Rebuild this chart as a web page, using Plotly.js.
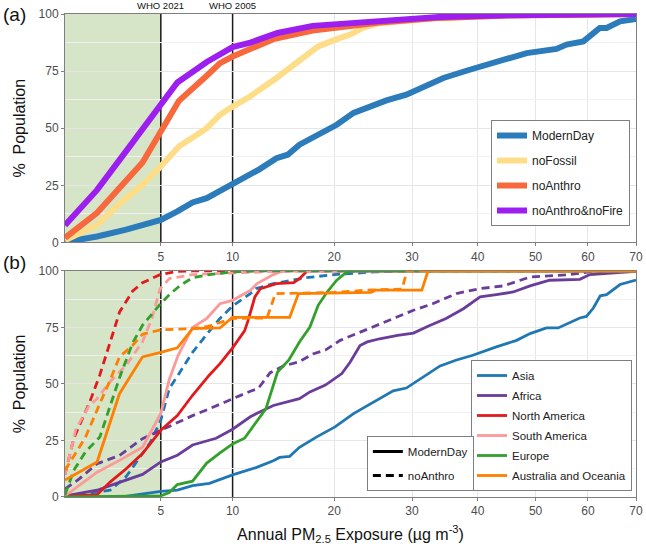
<!DOCTYPE html>
<html>
<head>
<meta charset="utf-8">
<script src="https://cdn.plot.ly/plotly-3.0.1.min.js"></script>
<style>
  body { margin: 0; background: #fff; }
  #chart { width: 646px; height: 552px; }
</style>
</head>
<body>
<div id="chart"></div>
<script>
// x = annual PM2.5 exposure (ug m-3), y = cumulative % of population

// ---- panel (a): global scenarios ----
const modernDay_x = [1, 2, 3.2, 5, 6, 7, 8, 10, 11.5, 12.3, 13.9, 15, 16.2, 18.4, 20.3, 22.3, 24.3, 26.5, 29.2, 31.6, 34.6, 38.7, 43.2, 48.4, 53.9, 55.8, 59.1, 60.4, 62.4, 63.8, 66.6, 70];
const modernDay_y = [0.2, 2.6, 5.6, 9.9, 13.6, 17.5, 19.4, 25.3, 29.6, 32, 36.9, 38.4, 42.8, 47.9, 51.5, 56.7, 59.5, 62.2, 64.7, 68, 72, 75.6, 79.2, 82.9, 84.7, 86.6, 88, 90.2, 93.9, 93.9, 96.8, 97.8];

const noFossil_x = [1, 2, 2.9, 4, 5, 6.1, 8, 9, 10, 11.5, 13.9, 15.9, 18.2, 20.3, 21.9, 23.5, 25.6, 34, 45, 70];
const noFossil_y = [1, 7.7, 17, 25.3, 33.3, 42, 50, 55.9, 59.5, 64, 72, 78.5, 85.8, 89, 91, 94, 96, 98.3, 99.3, 100];

const noAnthro_x = [1, 2, 4, 5, 6.1, 8, 9, 10, 11.5, 13.6, 17.6, 21.5, 25.6, 34, 45, 70];
const noAnthro_y = [2, 13, 35, 48, 62, 73, 78.5, 81.4, 85, 89, 92.8, 94.9, 96.3, 98.3, 99.3, 100];

const noFire_x = [1, 2, 3.2, 5, 6, 8, 10, 11.5, 14, 17.6, 21.5, 25.6, 34, 45, 70];
const noFire_y = [7.5, 23, 40, 60, 70, 79, 85.5, 87.5, 91.7, 94.8, 95.8, 97.2, 98.7, 99.5, 100];

// ---- panel (b): regions, ModernDay ----
const asia_x = [1, 3, 5, 6, 7, 8.2, 10, 12, 13.6, 14.2, 15.2, 16.2, 18, 20.1, 22.3, 24.8, 27.4, 29.2, 31.6, 34.1, 36.5, 39.2, 43.1, 46.6, 49, 52, 54.2, 56.5, 58.4, 59.7, 61.1, 62.5, 63.8, 66.6, 70];
const asia_y = [0, 0, 2.5, 3, 5, 6, 9.8, 13, 16, 17.5, 18, 22, 26.5, 31, 36.9, 42, 47, 48.2, 53, 58, 60.5, 62.7, 66.4, 69.3, 72.3, 74.8, 74.8, 77.4, 79.2, 79.9, 83.6, 89, 89.5, 94, 96];

const africa_x = [1, 2, 2.5, 3.2, 4, 5, 6, 7, 8.7, 10, 11.5, 12.1, 13.6, 16.2, 17.3, 19, 20.9, 21.9, 23.1, 24, 25.6, 28, 30.2, 32.3, 35, 37.7, 40.4, 43.1, 46, 49, 52.6, 58.4, 60.4, 70];
const africa_y = [0.5, 3, 5, 7.5, 10, 15.5, 18.5, 23, 26, 30, 35.5, 37, 40.5, 43.5, 46.5, 49.5, 54.6, 59.7, 67, 68.6, 70, 71.5, 72.5, 75.5, 79, 83.3, 88.5, 89.5, 90.7, 93.4, 95.9, 96.3, 98.4, 99.8];

const northAm_x = [1, 2, 2.5, 3.2, 4, 5, 6, 7, 8.2, 9, 10, 11, 11.3, 11.9, 12.4, 13.9, 15.6, 16.2, 17, 70];
const northAm_y = [0.3, 1, 6.6, 12.5, 19.2, 29.5, 36, 45, 54, 59, 66, 73.5, 78, 88.5, 92.2, 94.4, 94.8, 96.6, 100, 100];

const southAm_x = [1, 2, 2.9, 4, 5, 5.5, 6.05, 7, 8, 9, 10, 11.5, 12.1, 13.6, 14.5, 70];
const southAm_y = [0.5, 11, 16.2, 22, 37, 52, 62.7, 75, 79, 85.5, 87, 91.4, 94.4, 98.4, 100, 100];

const europe_x = [1, 5, 5.5, 6, 7, 8, 9, 10, 11, 11.8, 12.9, 14, 15.1, 16.2, 17.3, 18.2, 19.2, 20.3, 21.5, 22.5, 70];
const europe_y = [0, 0.5, 2, 5.5, 7, 15, 19.5, 23.5, 26, 31.7, 39, 55.3, 60.5, 68.6, 75.2, 84.8, 90.7, 95.9, 99.6, 100, 100];

const australia_x = [1, 2, 2.9, 4, 5, 6, 7, 9, 10, 15.2, 16.1, 24.5, 25, 31.4, 32.3, 70];
const australia_y = [7.5, 15.5, 45.7, 62, 64, 66, 74.5, 74.8, 79.5, 79.5, 90, 90.5, 91.5, 91.5, 100, 100];

// ---- panel (b): regions, noAnthro ----
const asiaNoAnthro_x = [1, 2.5, 3.2, 3.7, 4.4, 5, 5.5, 6.05, 7, 8, 9, 10, 11.5, 12, 13.6, 16.9, 20, 25, 30, 70];
const asiaNoAnthro_y = [0, 3, 9, 15.5, 24, 34, 48, 54, 64, 72, 79, 84.5, 90, 92.2, 94.4, 97, 98.4, 99.6, 100, 100];

const africaNoAnthro_x = [1, 1.4, 2, 2.9, 4, 5, 6, 7, 8.5, 10, 11.5, 12.2, 13.3, 14.6, 16.1, 17.7, 19, 20.7, 22.7, 24.8, 27, 30.2, 33, 36.6, 40.4, 44.3, 49, 56.5, 60.4, 70];
const africaNoAnthro_y = [3.5, 8, 14.7, 18.4, 25.8, 29.5, 33.2, 36, 39.8, 43.5, 46.8, 48, 55, 58, 59.7, 63.4, 65, 69.3, 72.3, 75.2, 78.2, 82.6, 85.5, 90, 92.2, 93.4, 97.3, 98.4, 99.6, 100];

const northAmNoAnthro_x = [1, 1.24, 1.74, 2.1, 2.49, 2.91, 3.5, 4, 5, 6, 7, 70];
const northAmNoAnthro_y = [10, 26, 42, 54, 68, 82, 91, 94.8, 98.5, 99.8, 100, 100];

const southAmNoAnthro_x = [1, 1.3, 1.7, 2, 2.5, 3.2, 4, 4.5, 4.95, 5.5, 7, 11.5, 15, 70];
const southAmNoAnthro_y = [10, 30, 40, 43.5, 51, 58.3, 68.6, 79, 92, 96.6, 98.4, 99.3, 100, 100];

const europeNoAnthro_x = [1, 1.24, 1.6, 2.1, 2.49, 2.91, 3.5, 4, 5, 5.5, 6.2, 7, 8.2, 10, 12, 70];
const europeNoAnthro_y = [1, 11.8, 20, 26.5, 39.8, 53, 68, 76, 85.6, 89.5, 93.7, 97, 98.4, 99.6, 100, 100];

const australiaNoAnthro_x = [1, 1.6, 2.1, 2.5, 2.9, 3.5, 4, 5, 7, 8.1, 10, 13, 13.8, 20, 24, 28.6, 29.3, 70];
const australiaNoAnthro_y = [11.8, 26.5, 41.3, 51.6, 62, 67, 72, 74, 74.5, 75.5, 79, 79.2, 90, 90.5, 91.5, 92, 100, 100];

// axis + guideline values
const xTicks = [5, 10, 20, 30, 40, 50, 60, 70];
const xGrid = [20, 30, 40, 50, 60];   // 5 and 10 carry the WHO lines instead
const xMin = 1;
const xMax = 70;
const yTicks = [0, 25, 50, 75, 100];
const yMinorGrid = [12.5, 37.5, 62.5, 87.5];
const whoLimits = [5, 10];
const whoLabels = ["WHO 2021", "WHO 2005"];

// the x axis is on a square-root scale
const sq = arr => arr.map(v => Math.sqrt(v));

const FONT = "Liberation Sans, Arial, sans-serif";

const scenarios = [
    {name: "ModernDay", x: modernDay_x, y: modernDay_y, color: "#2c7bba"},
    {name: "noFossil", x: noFossil_x, y: noFossil_y, color: "#fedd88"},
    {name: "noAnthro", x: noAnthro_x, y: noAnthro_y, color: "#f7693c"},
    {name: "noAnthro&noFire", x: noFire_x, y: noFire_y, color: "#9d1ff0"},
];

const regions = [
    {name: "Asia", color: "#1f78b4", md: [asia_x, asia_y], na: [asiaNoAnthro_x, asiaNoAnthro_y]},
    {name: "Africa", color: "#6a3d9a", md: [africa_x, africa_y], na: [africaNoAnthro_x, africaNoAnthro_y]},
    {name: "North America", color: "#e31a1c", md: [northAm_x, northAm_y], na: [northAmNoAnthro_x, northAmNoAnthro_y]},
    {name: "South America", color: "#fb9a99", md: [southAm_x, southAm_y], na: [southAmNoAnthro_x, southAmNoAnthro_y]},
    {name: "Europe", color: "#33a02c", md: [europe_x, europe_y], na: [europeNoAnthro_x, europeNoAnthro_y]},
    {name: "Australia and Oceania", color: "#ff7f00", md: [australia_x, australia_y], na: [australiaNoAnthro_x, australiaNoAnthro_y]},
];

const data = [];

scenarios.forEach(s => {
    data.push({
        name: s.name,
        x: sq(s.x),
        y: s.y,
        mode: "lines",
        type: "scatter",
        line: {color: s.color, width: 6},
        xaxis: "x",
        yaxis: "y",
        legend: "legend",
        legendgroup: s.name,
    });
});

regions.forEach(r => {
    data.push({
        name: r.name,
        x: sq(r.md[0]),
        y: r.md[1],
        mode: "lines",
        type: "scatter",
        line: {color: r.color, width: 2.8},
        xaxis: "x2",
        yaxis: "y2",
        legend: "legend2",
        legendgroup: r.name,
    });
    data.push({
        name: r.name + " (noAnthro)",
        x: sq(r.na[0]),
        y: r.na[1],
        mode: "lines",
        type: "scatter",
        line: {color: r.color, width: 2.8, dash: "8px,5px"},
        xaxis: "x2",
        yaxis: "y2",
        legend: "legend2",
        legendgroup: r.name,
        showlegend: false,
    });
});

// line-type key
[["ModernDay", "solid"], ["noAnthro", "8px,5px"]].forEach(([name, dash]) => {
    data.push({
        name: name,
        x: [null],
        y: [null],
        mode: "lines",
        type: "scatter",
        line: {color: "#000", width: 3, dash: dash},
        xaxis: "x2",
        yaxis: "y2",
        legend: "legend3",
        legendgroup: "lt_" + name,
    });
});

const xAxisBase = {
    range: [Math.sqrt(xMin), Math.sqrt(xMax)],
    tickvals: sq(xTicks),
    ticktext: xTicks.map(String),
    showgrid: false,
    minor: {tickvals: sq(xGrid), showgrid: true, gridcolor: "#e6e6e6", ticks: ""},
    showline: true,
    linecolor: "#7f7f7f",
    mirror: true,
    ticks: "outside",
    ticklen: 3,
    tickcolor: "#7f7f7f",
    tickfont: {family: FONT, size: 12, color: "#4d4d4d"},
    zeroline: false,
};

const yAxisBase = {
    range: [0, 100],
    tickvals: yTicks,
    showgrid: true,
    gridcolor: "#e6e6e6",
    minor: {tickvals: yMinorGrid, showgrid: true, gridcolor: "#f0f0f0", ticks: ""},
    showline: true,
    linecolor: "#7f7f7f",
    mirror: true,
    ticks: "outside",
    ticklen: 3,
    tickcolor: "#7f7f7f",
    tickfont: {family: FONT, size: 12, color: "#4d4d4d"},
    zeroline: false,
    title: {text: "% \u00a0Population", font: {family: FONT, size: 16, color: "#111"}, standoff: 8},
};

const shapes = [];
[["x", "y"], ["x2", "y2"]].forEach(([xr, yr]) => {
    shapes.push({
        type: "rect", xref: xr, yref: yr + " domain",
        x0: Math.sqrt(xMin), x1: Math.sqrt(whoLimits[0]), y0: 0, y1: 1,
        fillcolor: "#d6e4c7", line: {width: 0}, layer: "below",
    });
});
[["x", "y"], ["x2", "y2"]].forEach(([xr, yr]) => {
    whoLimits.forEach(w => {
        shapes.push({
            type: "line", xref: xr, yref: yr + " domain",
            x0: Math.sqrt(w), x1: Math.sqrt(w), y0: 0, y1: 1,
            line: {color: "#1a1a1a", width: 1.5}, layer: "below",
        });
    });
});

const annotations = [
    {text: "(a)", xref: "paper", yref: "paper", x: -0.112, y: 1.0, xanchor: "left", yanchor: "middle",
     showarrow: false, font: {family: FONT, size: 19, color: "#111"}},
    {text: "(b)", xref: "paper", yref: "paper", x: -0.112, y: 0.4845, xanchor: "left", yanchor: "middle",
     showarrow: false, font: {family: FONT, size: 19, color: "#111"}},
];
whoLimits.forEach((w, i) => {
    annotations.push({
        text: whoLabels[i], xref: "x", yref: "paper", x: Math.sqrt(w), y: 1.017,
        xanchor: "center", yanchor: "middle", showarrow: false,
        font: {family: FONT, size: 9.5, color: "#111"},
    });
});

const legendBase = {
    bgcolor: "#fff",
    bordercolor: "#7f7f7f",
    borderwidth: 1,
    xanchor: "right",
};

const layout = {
    width: 646,
    height: 552,
    margin: {l: 65, r: 10, t: 14, b: 55},
    paper_bgcolor: "#fff",
    plot_bgcolor: "#fff",
    font: {family: FONT},
    xaxis: {...xAxisBase, domain: [0, 1], anchor: "y"},
    xaxis2: {...xAxisBase, domain: [0, 1], anchor: "y2",
        title: {text: "Annual PM<sub>2.5</sub> Exposure (\u00b5g m<sup>-3</sup>)",
                font: {family: FONT, size: 16, color: "#111"}, standoff: 11}},
    yaxis: {...yAxisBase, domain: [0.527, 1], anchor: "x"},
    yaxis2: {...yAxisBase, domain: [0, 0.468], anchor: "x2"},
    shapes: shapes,
    annotations: annotations,
    showlegend: true,
    legend: {...legendBase, x: 0.9895, y: 0.7805, yanchor: "top", tracegroupgap: 6,
        font: {family: FONT, size: 12, color: "#222"}},
    legend2: {...legendBase, x: 0.993, y: 0.0124, yanchor: "bottom", tracegroupgap: 1,
        font: {family: FONT, size: 11.5, color: "#222"}},
    legend3: {...legendBase, x: 0.716, y: 0.0124, yanchor: "bottom", tracegroupgap: 5,
        font: {family: FONT, size: 11.5, color: "#222"}},
};

Plotly.newPlot("chart", data, layout, {displayModeBar: false});
</script>
</body>
</html>
